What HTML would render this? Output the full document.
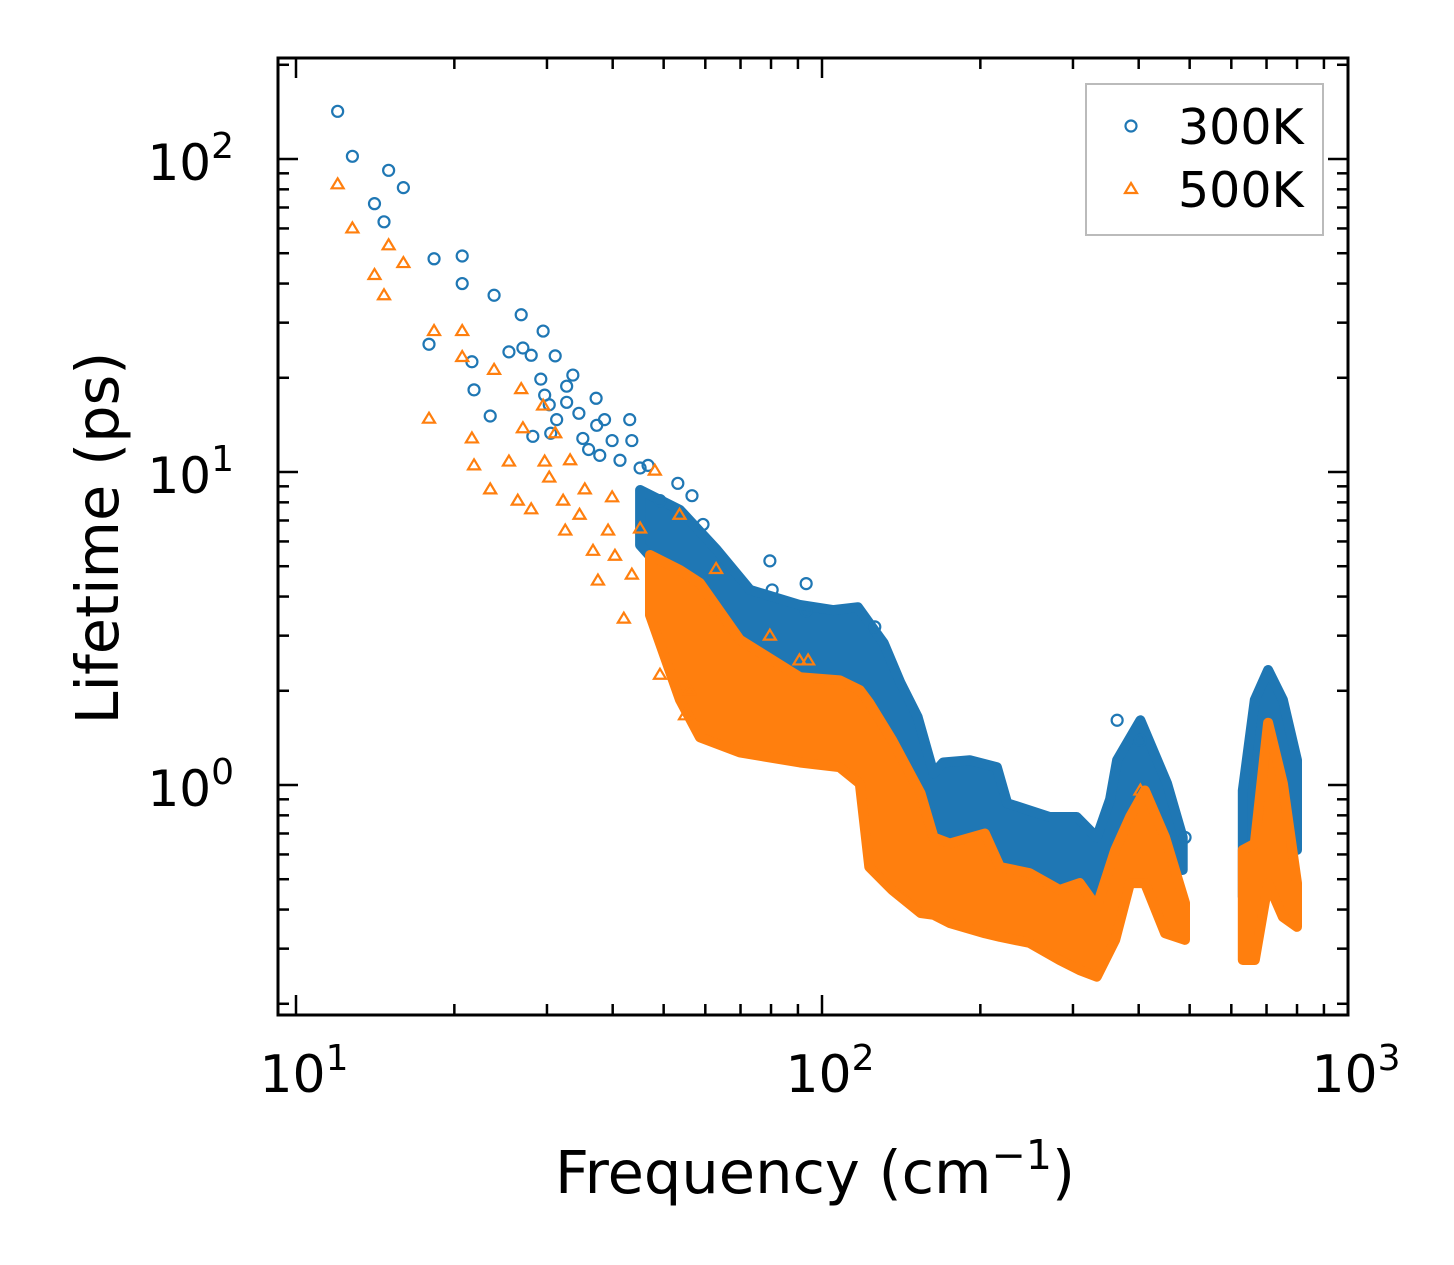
<!DOCTYPE html>
<html><head><meta charset="utf-8"><style>
html,body{margin:0;padding:0;background:#fff;}
svg{display:block;font-family:"DejaVu Sans","Liberation Sans",sans-serif;}
</style></head><body>
<svg id="chart" width="1454" height="1265" viewBox="0 0 1454 1265" xmlns="http://www.w3.org/2000/svg">
<rect width="1454" height="1265" fill="#fff"/>
<g id="bands"></g>
<g id="pts"></g>
<g id="axes"></g>
<text x="815" y="1193" font-size="59" text-anchor="middle">Frequency (cm<tspan dy="-24" font-size="41">−1</tspan><tspan dy="24">)</tspan></text>
<text transform="translate(118,538) rotate(-90)" font-size="59" text-anchor="middle">Lifetime (ps)</text>
<g>
<rect x="1086" y="84" width="237" height="151" fill="#fff" stroke="#bbb" stroke-width="2"/>
<circle cx="1131" cy="126" r="5.5" fill="none" stroke="#1f77b4" stroke-width="2.2"/>
<text x="1178" y="144" font-size="49">300K</text>
<polygon points="1131,183 1137,193 1125,193" fill="none" stroke="#ff7f0e" stroke-width="2.2"/>
<text x="1178" y="207" font-size="49">500K</text>
</g>
</svg>
<script>
// Scattered individual points (frequency cm^-1, lifetime ps)
const blueFreq=[12.0,12.8,14.1,15.0,14.7,16.0,18.3,20.7,20.7,17.9,21.6,21.8,23.8,23.4,25.4,26.8,27.0,28.0,29.5,29.2,29.7,30.3,31.1,31.3,30.5,28.2,32.7,32.7,33.6,34.5,35.1,36.0,37.2,37.3,38.6,37.8,39.9,41.3,43.1,43.5,45.1,46.7,49.2,53.2,56.6,59.4,79.6,80.4,93.3,93.3,126,364,403,490];
const blueLife=[142,102,72,92,63,81,48,49,40,25.6,22.5,18.3,36.7,15.1,24.2,31.8,24.9,23.6,28.2,19.8,17.6,16.4,23.5,14.7,13.3,13.0,18.8,16.7,20.4,15.4,12.8,11.8,17.2,14.1,14.7,11.3,12.6,10.9,14.7,12.6,10.3,10.5,8.1,9.2,8.4,6.8,5.2,4.2,4.4,3.6,3.2,1.61,1.39,0.68];
const orangeFreq=[12.0,12.8,14.1,15.0,14.7,16.0,18.3,17.9,20.7,20.7,21.6,21.8,23.4,23.8,25.4,26.4,26.8,27.0,28.0,29.5,29.7,30.3,31.1,32.2,32.5,33.2,34.6,35.4,36.7,37.5,39.2,39.9,40.4,42.0,43.5,45.1,48.1,49.2,53.6,54.9,56.0,62.9,79.6,90.6,94.1,403];
const orangeLife=[83,60,42.6,53,36.7,46.5,28.2,14.8,28.2,23.3,12.8,10.5,8.8,21.2,10.8,8.1,18.4,13.8,7.6,16.3,10.8,9.6,13.3,8.1,6.5,10.9,7.3,8.8,5.6,4.5,6.5,8.3,5.4,3.4,4.7,6.6,10.1,2.25,7.3,1.67,2.0,4.9,3.0,2.5,2.5,0.96];
// Dense-cloud envelopes: frequency, upper and lower lifetime
const blueBandFreq=[45.1,53.7,63.1,73.0,90.8,105,117,131,141,152,163,170,191,215,225,271,305,333,353,364,403,453,485];
const blueBandHi=[8.76,7.56,5.64,4.20,3.76,3.62,3.70,2.84,2.12,1.65,1.09,1.18,1.20,1.14,0.875,0.79,0.79,0.68,0.90,1.20,1.61,1.01,0.68];
const blueBandLo=[5.84,4.20,2.91,2.16,1.87,1.61,1.50,1.20,0.96,0.72,0.62,0.575,0.555,0.508,0.497,0.462,0.452,0.408,0.486,0.535,0.547,0.547,0.535];
const bluePeakFreq=[631,665,705,752,800];
const bluePeakHi=[0.96,1.87,2.33,1.87,1.20];
const bluePeakLo=[0.439,0.43,0.575,0.90,0.62];
const orangeBandFreq=[47.1,53.7,58.6,69.8,90.8,108,118,123,136,154,163,175,204,218,248,283,309,333,361,385,411,449,490];
const orangeBandHi=[5.43,4.86,4.42,2.91,2.21,2.16,2.01,1.83,1.39,0.94,0.68,0.65,0.70,0.547,0.523,0.462,0.486,0.408,0.62,0.79,0.96,0.68,0.42];
const orangeBandLo=[3.49,1.87,1.42,1.27,1.18,1.14,1.01,0.547,0.462,0.39,0.385,0.362,0.336,0.327,0.313,0.276,0.256,0.244,0.32,0.486,0.486,0.336,0.32];
const orangePeakFreq=[631,665,705,752,800];
const orangePeakHi=[0.62,0.65,1.58,1.01,0.486];
const orangePeakLo=[0.276,0.276,0.486,0.379,0.352];
const xTicks=[10,100,1000];
const yTicks=[1,10,100];

const X0=278,X1=1348,Y0=58,Y1=1015;
const DX=526, DY=313;
function sx(f){return 296+(Math.log10(f)-1)*DX;}
function sy(v){return 785-Math.log10(v)*DY;}
const NS="http://www.w3.org/2000/svg";
function mk(tag,attrs,parent){const e=document.createElementNS(NS,tag);for(const k in attrs)e.setAttribute(k,attrs[k]);parent.appendChild(e);return e;}

const bands=document.getElementById('bands');
function band(fr,hi,lo,color,name){
  const pts=[];
  for(let i=0;i<fr.length;i++)pts.push(sx(fr[i]).toFixed(1)+','+sy(hi[i]).toFixed(1));
  for(let i=fr.length-1;i>=0;i--)pts.push(sx(fr[i]).toFixed(1)+','+sy(lo[i]).toFixed(1));
  const p=mk('polygon',{points:pts.join(' '),fill:color,stroke:color,'stroke-width':10,'stroke-linejoin':'round'},bands);
  
  
}
band(blueBandFreq,blueBandHi,blueBandLo,'#1f77b4','band-300k-main');
band(bluePeakFreq,bluePeakHi,bluePeakLo,'#1f77b4','band-300k-peak');
band(orangeBandFreq,orangeBandHi,orangeBandLo,'#ff7f0e','band-500k-main');
band(orangePeakFreq,orangePeakHi,orangePeakLo,'#ff7f0e','band-500k-peak');

const pg=document.getElementById('pts');
for(let i=0;i<blueFreq.length;i++){
  const c=mk('circle',{cx:sx(blueFreq[i]),cy:sy(blueLife[i]),r:5.5,fill:'none',stroke:'#1f77b4','stroke-width':2.2},pg);
  
  
}
for(let i=0;i<orangeFreq.length;i++){
  const x=sx(orangeFreq[i]),y=sy(orangeLife[i]);
  const t=mk('polygon',{points:`${x},${y-6} ${x+6},${y+4} ${x-6},${y+4}`,fill:'none',stroke:'#ff7f0e','stroke-width':2.2},pg);
  
  
}

const ax=document.getElementById('axes');
const tk={stroke:'#000','stroke-width':2.5};
for(let d=1;d<=1000;d*=10){
  for(let m=1;m<10;m++){
    const v=d*m; if(v<9.3||v>1000) continue;
    const x=sx(v); const L=(m===1)?20:11;
    const t1=mk('line',Object.assign({x1:x,x2:x,y1:Y1,y2:Y1-L},tk),ax);
    
    
    const t2=mk('line',Object.assign({x1:x,x2:x,y1:Y0,y2:Y0+L},tk),ax);
    
    
  }
}
for(let d=0.1;d<=100;d*=10){
  for(let m=1;m<10;m++){
    const v=d*m; if(v<0.185||v>210) continue;
    const y=sy(v); const L=(m===1)?20:11;
    const t1=mk('line',Object.assign({x1:X0,x2:X0+L,y1:y,y2:y},tk),ax);
    
    
    const t2=mk('line',Object.assign({x1:X1,x2:X1-L,y1:y,y2:y},tk),ax);
    
    
  }
}
const fr=mk('rect',{x:X0,y:Y0,width:X1-X0,height:Y1-Y0,fill:'none',stroke:'#000','stroke-width':3},ax);


function lbl(x,y,exp,anchor,name,fs){
  const t=mk('text',{x:x,y:y,'font-size':fs,'text-anchor':anchor},ax);
  
  
  t.appendChild(document.createTextNode('10'));
  const s=mk('tspan',{dy:-22,'font-size':36},t);
  s.textContent=String(exp);
}
xTicks.forEach(v=>{lbl(sx(v)+8,1092,Math.round(Math.log10(v)),'middle','x-tick-label',52);});
yTicks.forEach(v=>{lbl(234,sy(v)+21,Math.round(Math.log10(v)),'end','y-tick-label',50);});
</script>
</body></html>
